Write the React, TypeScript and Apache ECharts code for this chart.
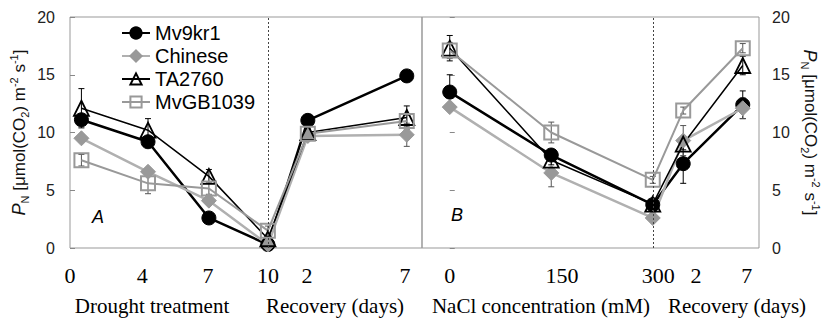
import React, { useEffect, useRef } from "react";
import * as echarts from "echarts";

const cultivars = ["Mv9kr1", "Chinese", "TA2760", "MvGB1039"];

// Panel A: drought days 0,4,7,10 then recovery days 2,7 (x positions as plotted)
const xA = [0.6, 4.1, 7.3, 10.4, 12.5, 17.7];
const mv9kr1A = [11.1, 9.2, 2.6, 0.3, 11.05, 14.9];
const chineseA = [9.5, 6.6, 4.1, 0.3, 9.7, 9.8];
const ta2760A = [12.1, 10.2, 6.2, 0.8, 10.0, 11.3];
const mvgbA = [7.6, 5.6, 5.15, 1.5, 9.9, 11.0];
const mv9kr1AErr = [0.4, 0.3, 0.2, 0.1, 0.3, 0.3];
const chineseAErr = [0.3, 0.3, 0.3, 0.1, 0.3, 1.0];
const ta2760AErr = [1.7, 1.0, 0.6, 0.2, 0.3, 1.0];
const mvgbAErr = [0.5, 0.9, 0.5, 0.4, 0.3, 0.5];
const dividerA = 10.4;
const tickLabelsA = ["0", "4", "7", "10", "2", "7"];
const tickPosA = [0, 3.8, 7.25, 10.4, 12.45, 17.6];

// Panel B: NaCl 0,150,300 mM then recovery days 2,7 (x positions as plotted)
const xB = [0, 150, 300, 345, 433];
const mv9kr1B = [13.5, 8.05, 3.75, 7.3, 12.4];
const chineseB = [12.2, 6.5, 2.6, 9.3, 12.1];
const ta2760B = [17.3, 7.6, 3.8, 9.0, 15.8];
const mvgbB = [17.1, 10.0, 5.9, 11.9, 17.3];
const mv9kr1BErr = [1.5, 0.4, 0.3, 1.7, 1.2];
const chineseBErr = [0.3, 1.2, 0.3, 1.3, 0.9];
const ta2760BErr = [1.1, 0.4, 0.3, 0.5, 0.8];
const mvgbBErr = [0.7, 0.9, 0.3, 0.3, 0.4];
const dividerB = 300;
const tickLabelsB = ["0", "150", "300", "2", "7"];
const tickPosB = [0, 166, 308, 364, 439];

const groupLabels = ["Drought treatment", "Recovery (days)", "NaCl concentration (mM)", "Recovery (days)"];
const panelLetters = ["A", "B"];

const SANS = "Liberation Sans";
const SERIF = "Liberation Serif";

const styles: Record<string, any> = {
  Mv9kr1: {
    symbol: "circle",
    symbolSize: 14,
    lineStyle: { color: "#000", width: 2.5 },
    itemStyle: { color: "#000", borderColor: "#000", borderWidth: 1 },
    err: "#000",
  },
  Chinese: {
    symbol: "diamond",
    symbolSize: 15,
    lineStyle: { color: "#b0b0b0", width: 2.5 },
    itemStyle: { color: "#999", borderColor: "#999", borderWidth: 1 },
    err: "#555",
  },
  TA2760: {
    symbol: "triangle",
    symbolSize: 15,
    lineStyle: { color: "#000", width: 1.5 },
    itemStyle: { color: "rgba(255,255,255,0)", borderColor: "#000", borderWidth: 1.8 },
    err: "#000",
  },
  MvGB1039: {
    symbol: "rect",
    symbolSize: 14,
    lineStyle: { color: "#999", width: 2 },
    itemStyle: { color: "rgba(255,255,255,0)", borderColor: "#999", borderWidth: 2 },
    err: "#555",
  },
};

function lineSeries(name: string, xs: number[], ys: number[], idx: number, divider?: number) {
  const s = styles[name];
  const out: any = {
    type: "line",
    name,
    xAxisIndex: idx,
    yAxisIndex: idx,
    data: xs.map((x, i) => [x, ys[i]]),
    symbol: s.symbol,
    symbolSize: s.symbolSize,
    showSymbol: true,
    lineStyle: s.lineStyle,
    itemStyle: s.itemStyle,
    z: 3,
  };
  if (divider !== undefined) {
    out.markLine = {
      silent: true,
      symbol: "none",
      label: { show: false },
      lineStyle: { type: [2, 2], color: "#444", width: 1 },
      data: [{ xAxis: divider }],
    };
  }
  return out;
}

function errSeries(name: string, xs: number[], ys: number[], es: number[], idx: number) {
  const color = styles[name].err;
  return {
    type: "custom",
    name: name + " err",
    xAxisIndex: idx,
    yAxisIndex: idx,
    silent: true,
    z: 2,
    data: xs.map((x, i) => [x, ys[i] - es[i], ys[i] + es[i]]),
    encode: { x: 0, y: [1, 2] },
    renderItem: (_p: any, api: any) => {
      const lo = api.coord([api.value(0), api.value(1)]);
      const hi = api.coord([api.value(0), api.value(2)]);
      const w = 3;
      const st = { stroke: color, lineWidth: 1 };
      return {
        type: "group",
        children: [
          { type: "line", shape: { x1: lo[0], y1: lo[1], x2: hi[0], y2: hi[1] }, style: st },
          { type: "line", shape: { x1: lo[0] - w, y1: lo[1], x2: lo[0] + w, y2: lo[1] }, style: st },
          { type: "line", shape: { x1: hi[0] - w, y1: hi[1], x2: hi[0] + w, y2: hi[1] }, style: st },
        ],
      };
    },
  };
}

const axisName = "{i|P}{sub|N}{n| [μmol(CO}{sub|2}{n|) m}{sup|-2}{n| s}{sup|-1}{n|]}";
const nameStyle = {
  fontFamily: SANS,
  color: "#111",
  rich: {
    i: { fontFamily: SANS, fontStyle: "italic", fontSize: 18, lineHeight: 22, color: "#111" },
    n: { fontFamily: SANS, fontSize: 17, lineHeight: 22, color: "#111" },
    sub: { fontFamily: SANS, fontSize: 11, lineHeight: 11, verticalAlign: "bottom", color: "#111" },
    sup: { fontFamily: SANS, fontSize: 11, lineHeight: 11, verticalAlign: "top", color: "#111" },
  },
};

function yAxis(idx: number, pos: "left" | "right") {
  return {
    type: "value",
    gridIndex: idx,
    position: pos,
    min: 0,
    max: 20,
    interval: 5,
    splitLine: { show: false },
    axisLine: { show: false },
    axisTick: { show: true, inside: pos === "left", length: 5, lineStyle: { color: "#888" } },
    axisLabel: { fontFamily: SANS, fontSize: 16, color: "#222", margin: pos === "left" ? 15 : 13 },
    name: axisName,
    nameLocation: "middle",
    nameRotate: pos === "left" ? 90 : -90,
    nameGap: 40,
    nameTextStyle: nameStyle,
  };
}

function xAxis(idx: number, min: number, max: number, pos: number[], labels: string[]) {
  return {
    type: "value",
    gridIndex: idx,
    min,
    max,
    splitLine: { show: false },
    axisLine: { show: false },
    axisTick: { show: false },
    axisLabel: {
      customValues: pos,
      formatter: (v: number) => {
        const k = pos.findIndex((p) => Math.abs(p - v) < 1e-6);
        return k >= 0 ? labels[k] : "";
      },
      fontFamily: SERIF,
      fontSize: 22,
      color: "#000",
      margin: 16,
    },
  };
}

export default function App() {
  const ref = useRef<HTMLDivElement>(null);
  useEffect(() => {
    if (!ref.current) return;
    const chart = echarts.init(ref.current, undefined, { renderer: "svg" });
    const seriesA = [
      lineSeries("Mv9kr1", xA, mv9kr1A, 0, dividerA),
      lineSeries("Chinese", xA, chineseA, 0),
      lineSeries("TA2760", xA, ta2760A, 0),
      lineSeries("MvGB1039", xA, mvgbA, 0),
      errSeries("Mv9kr1", xA, mv9kr1A, mv9kr1AErr, 0),
      errSeries("Chinese", xA, chineseA, chineseAErr, 0),
      errSeries("TA2760", xA, ta2760A, ta2760AErr, 0),
      errSeries("MvGB1039", xA, mvgbA, mvgbAErr, 0),
    ];
    const seriesB = [
      lineSeries("Mv9kr1", xB, mv9kr1B, 1, dividerB),
      lineSeries("Chinese", xB, chineseB, 1),
      lineSeries("TA2760", xB, ta2760B, 1),
      lineSeries("MvGB1039", xB, mvgbB, 1),
      errSeries("Mv9kr1", xB, mv9kr1B, mv9kr1BErr, 1),
      errSeries("Chinese", xB, chineseB, chineseBErr, 1),
      errSeries("TA2760", xB, ta2760B, ta2760BErr, 1),
      errSeries("MvGB1039", xB, mvgbB, mvgbBErr, 1),
    ];
    const textCommon = { fill: "#000", align: "center", verticalAlign: "middle" };
    chart.setOption({
      animation: false,
      backgroundColor: "#fff",
      textStyle: { fontFamily: SANS },
      grid: [
        { left: 70, top: 17, width: 352, height: 231, show: true, borderColor: "#999", borderWidth: 1 },
        { left: 422, top: 17, width: 337, height: 231, show: true, borderColor: "#999", borderWidth: 1 },
      ],
      xAxis: [xAxis(0, 0, 18.5, tickPosA, tickLabelsA), xAxis(1, -41, 457, tickPosB, tickLabelsB)],
      yAxis: [yAxis(0, "left"), yAxis(1, "right")],
      legend: {
        data: cultivars,
        orient: "vertical",
        left: 121,
        top: 23,
        padding: 0,
        itemWidth: 28,
        itemHeight: 14,
        itemGap: 3,
        textStyle: { fontFamily: SANS, fontSize: 20, color: "#000" },
      },
      graphic: [
        { type: "text", x: 152, y: 306, style: { ...textCommon, text: groupLabels[0], font: `21px "${SERIF}"` } },
        { type: "text", x: 335, y: 306, style: { ...textCommon, text: groupLabels[1], font: `21px "${SERIF}"` } },
        { type: "text", x: 541, y: 306, style: { ...textCommon, text: groupLabels[2], font: `21px "${SERIF}"` } },
        { type: "text", x: 737, y: 306, style: { ...textCommon, text: groupLabels[3], font: `21px "${SERIF}"` } },
        { type: "text", x: 98, y: 217, style: { ...textCommon, text: panelLetters[0], font: `italic 18px "${SANS}"` } },
        { type: "text", x: 457, y: 215, style: { ...textCommon, text: panelLetters[1], font: `italic 18px "${SANS}"` } },
      ],
      series: [...seriesA, ...seriesB],
    });
    return () => chart.dispose();
  }, []);
  return <div ref={ref} style={{ position: "fixed", left: 0, top: 0, width: 825, height: 319 }} />;
}
